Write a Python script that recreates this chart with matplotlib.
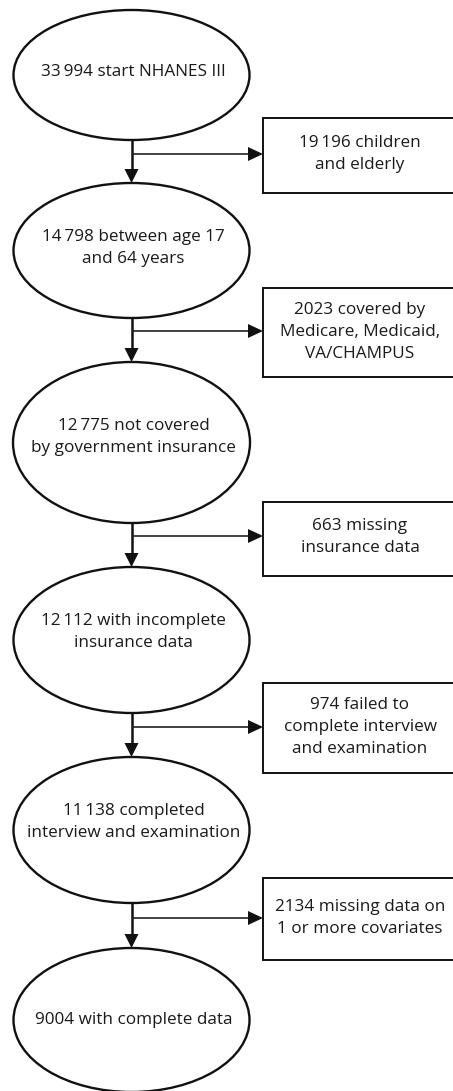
import matplotlib
matplotlib.use("Agg")
import matplotlib.pyplot as plt
from matplotlib.patches import Ellipse, Rectangle, Polygon

plt.rcParams['font.family'] = ['Open Sans', 'DejaVu Sans']

# Flow data
main_steps = [
    "33\u2009994 start NHANES III",
    "14\u2009798 between age 17\nand 64 years",
    "12\u2009775 not covered\nby government insurance",
    "12\u2009112 with incomplete\ninsurance data",
    "11\u2009138 completed\ninterview and examination",
    "9004 with complete data",
]
exclusions = [
    "19\u2009196 children\nand elderly",
    "2023 covered by\nMedicare, Medicaid,\nVA/CHAMPUS",
    "663 missing\ninsurance data",
    "974 failed to\ncomplete interview\nand examination",
    "2134 missing data on\n1 or more covariates",
]

# Layout (pixel coordinates)
W, H = 453, 1091
cx = 131.5
ell_top = [10, 183, 362, 567, 757, 948]
ell_bot = [140, 318, 523, 713, 903, 1092]
ell_w = [236, 236, 237, 236, 236, 236]
ell_text_y = [72, 248, 437, 632, 822, 1020]
box_top = [118, 288, 502, 683, 878]
box_bot = [193, 377, 576, 773, 960]
box_text_y = [154, 332, 537, 727, 918]
branch_y = [154, 331, 536, 727, 918]
box_left = 263
box_text_x = 360

fig = plt.figure(figsize=(W / 100, H / 100), dpi=100)
ax = fig.add_axes([0, 0, 1, 1])
ax.set_xlim(0, W)
ax.set_ylim(H, 0)
ax.axis('off')

fs = 12.3
ls = 1.48
for i, txt in enumerate(main_steps):
    t, b = ell_top[i], ell_bot[i]
    e = Ellipse((cx, (t + b) / 2), ell_w[i], b - t, facecolor='white',
                edgecolor='#111111', lw=1.7, zorder=2)
    ax.add_patch(e)
    ax.text(cx + 2, ell_text_y[i], txt, ha='center', va='center', fontsize=fs,
            color='#1a1a1a', linespacing=ls, zorder=3)

for i, txt in enumerate(exclusions):
    t, b = box_top[i], box_bot[i]
    r = Rectangle((box_left, t), 200, b - t, facecolor='white',
                  edgecolor='#111111', lw=1.4, zorder=2)
    ax.add_patch(r)
    ax.text(box_text_x, box_text_y[i], txt, ha='center', va='center',
            fontsize=fs, color='#1a1a1a', linespacing=ls, zorder=3)

ah = 14  # arrowhead length
aw = 7   # half width
for i in range(len(exclusions)):
    y0 = ell_bot[i]
    y1 = ell_top[i + 1]
    ax.plot([cx, cx], [y0, y1 - ah], color='#111111', lw=1.8, zorder=1,
            solid_capstyle='butt')
    ax.add_patch(Polygon([[cx - aw, y1 - ah], [cx + aw, y1 - ah], [cx, y1]],
                         closed=True, facecolor='#111111', edgecolor='none', zorder=4))
    by = branch_y[i]
    ax.plot([cx, box_left - ah], [by, by], color='#222222', lw=1.2, zorder=1,
            solid_capstyle='butt')
    ax.add_patch(Polygon([[box_left - ah - 1, by - aw], [box_left - ah - 1, by + aw],
                          [box_left, by]], closed=True, facecolor='#111111',
                         edgecolor='none', zorder=4))

fig.savefig('out.png', dpi=100, facecolor='white')
